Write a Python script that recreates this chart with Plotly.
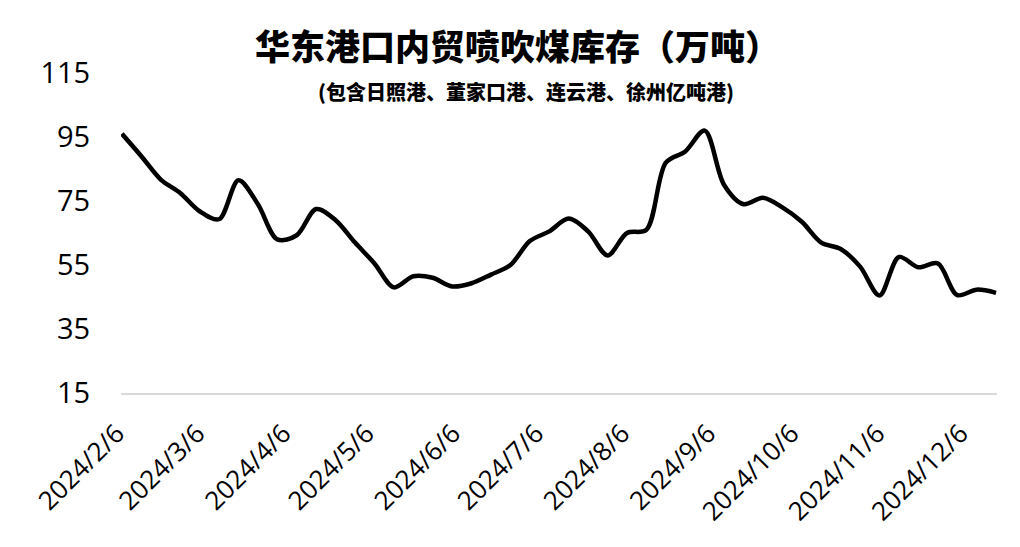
import plotly.graph_objects as go
import pandas as pd

# Weekly inventory (万吨), every Tuesday from 2024-02-06 to 2024-12-17
dates = pd.date_range("2024-02-06", periods=46, freq="7D")
values = [
    96.0, 89.0, 81.7, 77.5, 71.8, 69.3, 81.5, 74.0, 63.0, 64.3,
    72.5, 69.0, 62.0, 55.5, 48.0, 51.5, 51.0, 48.3, 49.3, 52.0,
    55.0, 62.5, 65.5, 69.5, 65.5, 58.0, 65.0, 66.0, 87.0, 90.5,
    97.0, 80.0, 74.0, 76.0, 73.0, 68.5, 62.0, 60.0, 54.5, 45.5,
    57.5, 54.3, 55.5, 45.6, 47.3, 46.3,
]

tick_dates = pd.date_range("2024-02-01", periods=11, freq="MS") + pd.Timedelta(days=5)
tick_labels = [f"{d.year}/{d.month}/{d.day}" for d in tick_dates]
y_ticks = [15, 35, 55, 75, 95, 115]

title_text = "华东港口内贸喷吹煤库存（万吨）"
subtitle_text = "(包含日照港、董家口港、连云港、徐州亿吨港)"

fig = go.Figure()
fig.add_trace(go.Scatter(
    x=dates, y=values, mode="lines",
    line=dict(color="#000000", width=4.5, shape="spline", smoothing=0.9),
    hoverinfo="skip", showlegend=False,
))

# the page body has an 8px margin, so the figure is slightly smaller than the window
fig.update_layout(
    width=1004, height=531,
    margin=dict(l=113, r=15, t=65, b=146),
    paper_bgcolor="white", plot_bgcolor="white",
    font=dict(family="Open Sans, Noto Sans CJK SC", color="#000000"),
    showlegend=False,
)

fig.update_xaxes(
    type="date", automargin=False, ticklabeloverflow="allow",
    range=[dates[0] - pd.Timedelta(hours=8), dates[-1] + pd.Timedelta(hours=8)],
    tickvals=list(tick_dates), ticktext=tick_labels, tickangle=-45,
    tickfont=dict(family="Open Sans", size=26, color="#000000"),
    showgrid=False, zeroline=False,
    showline=True, linecolor="#d9d9d9", linewidth=1.5,
    ticks="outside", ticklen=13, tickcolor="rgba(0,0,0,0)",
    ticklabelshift=-5,
)
fig.update_yaxes(
    range=[15, 115], automargin=False,
    tickvals=y_ticks, ticktext=[str(v) for v in y_ticks],
    tickfont=dict(family="Open Sans", size=29, color="#000000"),
    showgrid=False, zeroline=False, showline=False,
    ticks="outside", ticklen=24, tickcolor="rgba(0,0,0,0)",
)

fig.add_annotation(
    text=title_text, xref="paper", yref="paper",
    x=0.453, y=1 + (73 - 44) / 320, xanchor="center", yanchor="middle",
    showarrow=False,
    font=dict(family="Noto Sans CJK SC", size=35, weight=900, color="#000000"),
)
fig.add_annotation(
    text=subtitle_text, xref="paper", yref="paper",
    x=0.462, y=1 + (73 - 92) / 320, xanchor="center", yanchor="middle",
    showarrow=False,
    font=dict(family="Noto Sans CJK SC", size=20, weight=900, color="#000000"),
)

fig.write_html("out.html")
